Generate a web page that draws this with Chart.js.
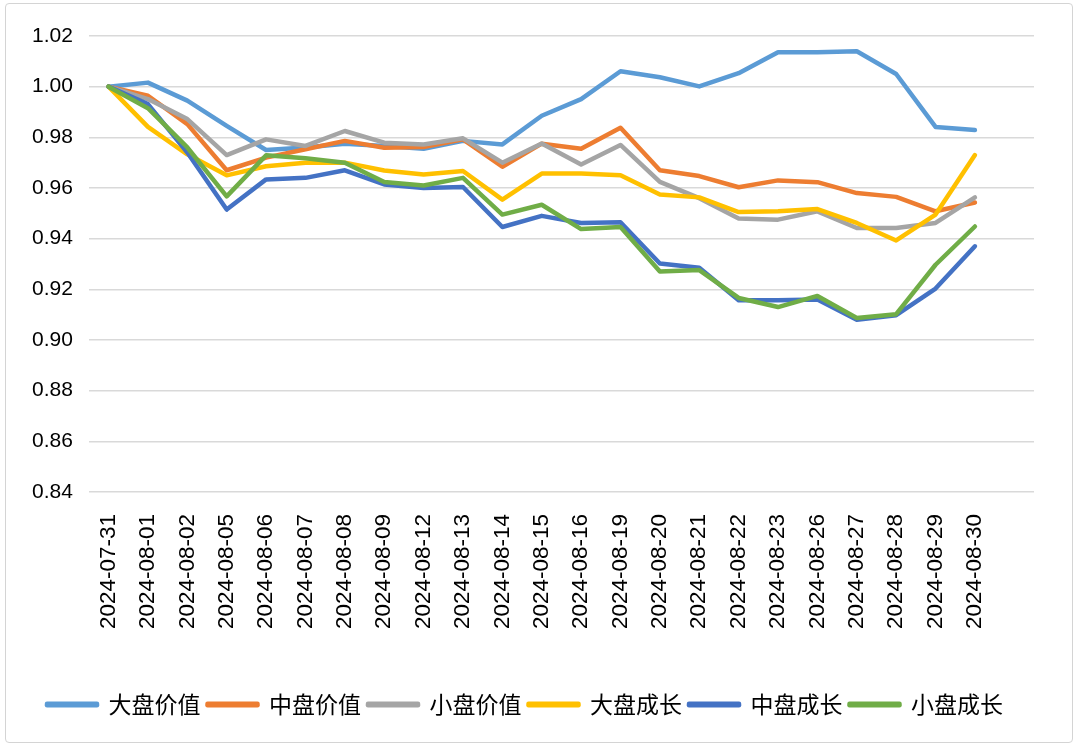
<!DOCTYPE html>
<html>
<head>
<meta charset="utf-8">
<script src="https://cdn.jsdelivr.net/npm/chart.js@4.4.1/dist/chart.umd.min.js"></script>
<style>
  html, body { margin: 0; padding: 0; background: #ffffff; }
  #wrap { position: relative; width: 1080px; height: 748px; }
  #frame {
    position: absolute; left: 5px; top: 3px; width: 1068px; height: 740px;
    border: 1.5px solid #d4d4d4; border-radius: 4px; box-sizing: border-box;
  }
  canvas { position: absolute; left: 0; top: 0; }
</style>
</head>
<body>
<div id="wrap">
  <div id="frame"></div>
  <canvas id="lineChart" width="1080" height="748"></canvas>
</div>
<script>
// dates on the x axis (last empty slot leaves the gap on the right like the original)
const dates = [
  "2024-07-31", "2024-08-01", "2024-08-02", "2024-08-05", "2024-08-06",
  "2024-08-07", "2024-08-08", "2024-08-09", "2024-08-12", "2024-08-13",
  "2024-08-14", "2024-08-15", "2024-08-16", "2024-08-19", "2024-08-20",
  "2024-08-21", "2024-08-22", "2024-08-23", "2024-08-26", "2024-08-27",
  "2024-08-28", "2024-08-29", "2024-08-30", ""
];

const seriesNames = ["大盘价值", "中盘价值", "小盘价值", "大盘成长", "中盘成长", "小盘成长"];

// values
const largeValue = [1.000, 1.0016, 0.9945, 0.9845, 0.9750, 0.9760, 0.9775, 0.9766, 0.9755, 0.9786,
  0.9772, 0.9885, 0.9951, 1.0061, 1.0037, 1.0001, 1.0053, 1.0136, 1.0136, 1.0140,
  1.0050, 0.9841, 0.9829];
const midValue = [1.000, 0.9964, 0.9852, 0.9670, 0.9720, 0.9753, 0.9786, 0.9759, 0.9762, 0.9792,
  0.9684, 0.9775, 0.9755, 0.9838, 0.9670, 0.9647, 0.9603, 0.9630, 0.9623, 0.9580,
  0.9565, 0.9508, 0.9543];
const smallValue = [1.000, 0.9951, 0.9872, 0.9730, 0.9792, 0.9766, 0.9825, 0.9779, 0.9772, 0.9796,
  0.9700, 0.9776, 0.9693, 0.9770, 0.9624, 0.9560, 0.9480, 0.9475, 0.9508, 0.9442,
  0.9442, 0.9462, 0.9563];
const largeGrowth = [1.000, 0.9841, 0.9733, 0.9650, 0.9686, 0.9700, 0.9700, 0.9669, 0.9653, 0.9667,
  0.9554, 0.9657, 0.9657, 0.9650, 0.9574, 0.9563, 0.9505, 0.9508, 0.9517, 0.9462,
  0.9393, 0.9495, 0.9730];
const midGrowth = [1.000, 0.9931, 0.9740, 0.9515, 0.9634, 0.9640, 0.9670, 0.9614, 0.9600, 0.9604,
  0.9446, 0.9490, 0.9462, 0.9465, 0.9302, 0.9285, 0.9157, 0.9157, 0.9160, 0.9080,
  0.9098, 0.9203, 0.9370];
const smallGrowth = [1.000, 0.9915, 0.9760, 0.9567, 0.9729, 0.9717, 0.9700, 0.9624, 0.9610, 0.9640,
  0.9495, 0.9534, 0.9438, 0.9446, 0.9270, 0.9276, 0.9166, 0.9130, 0.9174, 0.9087,
  0.9102, 0.9297, 0.9448];

const yTicks = [0.84, 0.86, 0.88, 0.90, 0.92, 0.94, 0.96, 0.98, 1.00, 1.02];

const allSeries = [largeValue, midValue, smallValue, largeGrowth, midGrowth, smallGrowth];
const colors = ["#5B9BD5", "#ED7D31", "#A5A5A5", "#FFC000", "#4472C4", "#70AD47"];

const ctx = document.getElementById("lineChart").getContext("2d");

new Chart(ctx, {
  type: "line",
  data: {
    labels: dates,
    datasets: allSeries.map((vals, i) => ({
      label: seriesNames[i],
      data: vals,
      borderColor: colors[i],
      backgroundColor: colors[i],
      borderWidth: 4.5,
      borderCapStyle: "round",
      borderJoinStyle: "round",
      pointRadius: 0,
      tension: 0,
      order: allSeries.length - i, // later series drawn on top, like Excel
    })),
  },
  options: {
    responsive: false,
    animation: false,
    layout: { padding: { left: 16, right: 46, top: 36, bottom: 22 } },
    scales: {
      x: {
        offset: true,
        grid: { display: false },
        border: { display: false },
        afterFit: (axis) => {
          axis.height = 194; // leaves the empty band above the legend
        },
        ticks: {
          autoSkip: false,
          minRotation: 90,
          maxRotation: 90,
          color: "#000000",
          padding: 14,
          font: { family: "'Liberation Sans', Arial, sans-serif", size: 22.5 },
        },
      },
      y: {
        min: 0.84,
        max: 1.02,
        afterBuildTicks: (axis) => {
          axis.ticks = yTicks.map((v) => ({ value: v }));
        },
        grid: { color: "#d9d9d9", lineWidth: 1.5, drawTicks: false },
        border: { display: false },
        ticks: {
          color: "#000000",
          padding: 16,
          font: { family: "'Liberation Sans', Arial, sans-serif", size: 21 },
          callback: (v) => Number(v).toFixed(2),
        },
      },
    },
    plugins: {
      tooltip: { enabled: false },
      legend: {
        position: "bottom",
        labels: {
          boxWidth: 50,
          boxHeight: 1.5,
          padding: 7,
          color: "#000000",
          font: { family: "'Noto Sans CJK SC', sans-serif", size: 23 },
          sort: (a, b) => a.datasetIndex - b.datasetIndex,
        },
      },
    },
  },
});
</script>
</body>
</html>
